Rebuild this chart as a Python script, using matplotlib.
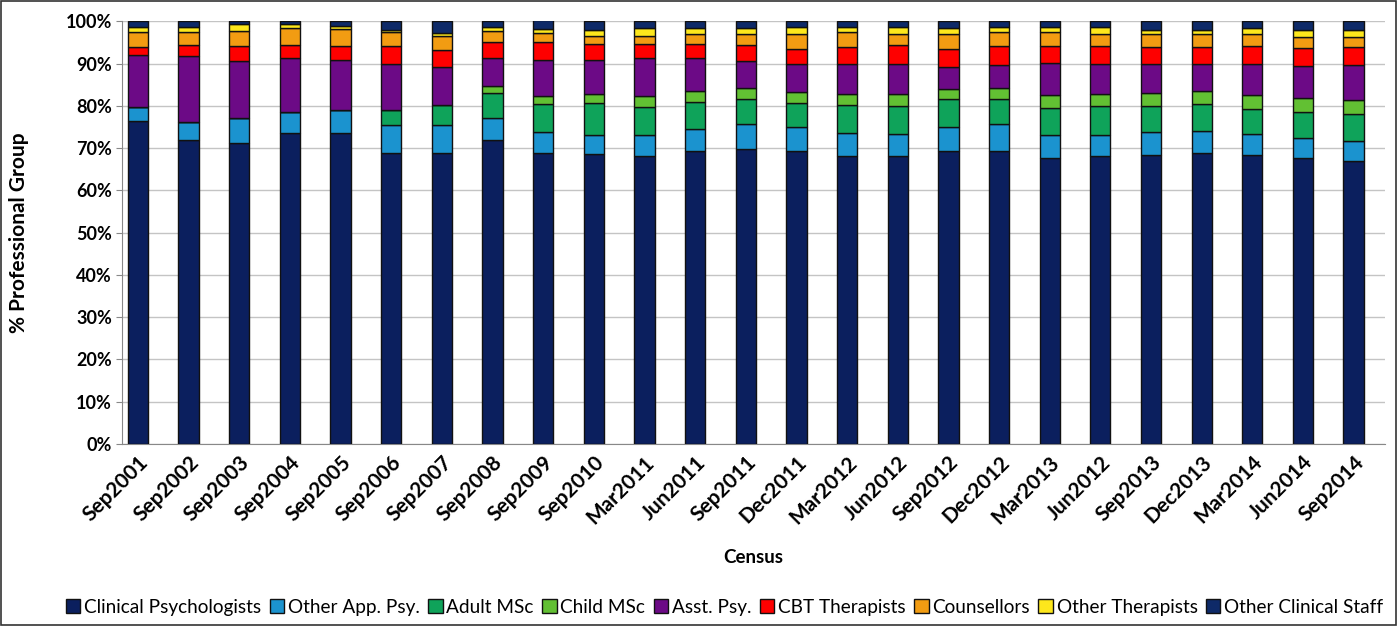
import matplotlib.pyplot as plt
from matplotlib.patches import Rectangle
import numpy as np

plt.rcParams['font.family'] = ['Lato', 'DejaVu Sans']

census = ["Sep2001", "Sep2002", "Sep2003", "Sep2004", "Sep2005", "Sep2006",
          "Sep2007", "Sep2008", "Sep2009", "Sep2010", "Mar2011", "Jun2011",
          "Sep2011", "Dec2011", "Mar2012", "Jun2012", "Sep2012", "Dec2012",
          "Mar2013", "Jun2012", "Sep2013", "Dec2013", "Mar2014", "Jun2014",
          "Sep2014"]

# % of workforce in each professional group per census
clinical_psych = [76.4, 71.9, 71.3, 73.5, 73.6, 68.9, 68.9, 71.8, 68.9, 68.7, 68.1, 69.3, 69.7,
                  69.4, 68.1, 68.1, 69.3, 69.4, 67.7, 68.1, 68.3, 68.9, 68.3, 67.7, 66.9]
other_app_psy = [3.4, 4.3, 5.9, 5.1, 5.5, 6.5, 6.5, 5.4, 5.0, 4.5, 5.1, 5.3, 5.9,
                 5.6, 5.5, 5.3, 5.7, 6.3, 5.5, 5.1, 5.6, 5.1, 5.1, 4.7, 4.8]
adult_msc = [0, 0, 0, 0, 0, 3.7, 4.8, 5.9, 6.6, 7.5, 6.6, 6.3, 5.9,
             5.7, 6.6, 6.5, 6.5, 5.8, 6.3, 6.7, 6.0, 6.5, 5.9, 6.2, 6.4]
child_msc = [0, 0, 0, 0, 0, 0, 0, 1.5, 1.8, 2.2, 2.6, 2.7, 2.6,
             2.6, 2.7, 2.9, 2.4, 2.6, 3.0, 2.9, 3.2, 3.1, 3.2, 3.3, 3.2]
asst_psy = [12.3, 15.7, 13.4, 12.7, 11.8, 10.8, 8.9, 6.6, 8.6, 7.9, 8.8, 7.6, 6.5,
            6.5, 7.0, 7.2, 5.2, 5.5, 7.7, 7.2, 6.7, 6.3, 7.4, 7.5, 8.3]
cbt = [1.8, 2.4, 3.5, 3.2, 3.2, 4.2, 4.2, 3.8, 4.2, 3.9, 3.5, 3.5, 3.9,
       3.7, 4.0, 4.3, 4.4, 4.5, 3.9, 4.1, 4.1, 4.0, 4.2, 4.3, 4.3]
counsellors = [3.6, 3.2, 3.7, 3.8, 4.0, 3.4, 3.2, 2.6, 2.2, 1.9, 1.9, 2.2, 2.4,
               3.6, 3.5, 2.8, 3.6, 3.3, 3.3, 3.0, 3.0, 3.0, 2.8, 2.5, 2.3]
other_ther = [1.1, 1.1, 1.6, 1.1, 0.7, 0.5, 0.7, 1.0, 0.9, 1.4, 1.7, 1.4, 1.4,
              1.5, 1.3, 1.5, 1.2, 1.2, 1.2, 1.5, 1.1, 1.1, 1.4, 1.8, 1.8]
other_staff = [1.4, 1.4, 0.6, 0.6, 1.2, 2.0, 2.8, 1.4, 2.2, 2.0, 1.7, 1.7, 1.7,
               1.4, 1.3, 1.4, 1.7, 1.4, 1.4, 1.4, 2.0, 2.0, 1.7, 2.0, 2.0]

groups = ["Clinical Psychologists", "Other App. Psy.", "Adult MSc", "Child MSc",
          "Asst. Psy.", "CBT Therapists", "Counsellors", "Other Therapists",
          "Other Clinical Staff"]
series = [clinical_psych, other_app_psy, adult_msc, child_msc, asst_psy, cbt,
          counsellors, other_ther, other_staff]
colors = ["#0b1f5e", "#1b93cf", "#0fa35a", "#62c033", "#6c0a86", "#fe0000",
          "#f29c12", "#fde71c", "#0e2a68"]

fig = plt.figure(figsize=(13.99, 6.26), dpi=100)
ax = fig.add_axes([0.087, 0.291, 0.903, 0.675])

x = np.arange(len(census))
bottom = np.zeros(len(census))
for name, vals, c in zip(groups, series, colors):
    v = np.array(vals) / 100.0
    ax.bar(x, v, width=0.40, bottom=bottom, color=c, edgecolor="#111111",
           linewidth=1.0, label=name, zorder=3)
    bottom += v

ax.set_ylim(0, 1)
ax.set_xlim(-0.32, len(census) - 1 + 0.62)
ticks = np.arange(0, 1.01, 0.1)
ax.set_yticks(ticks)
ax.set_yticklabels([f"{int(round(t * 100))}%" for t in ticks],
                   fontsize=13, fontweight="bold")
ax.set_xticks(x)
ax.set_xticklabels(census, rotation=45, ha="right", rotation_mode="anchor",
                   fontsize=15, fontweight="bold")
ax.tick_params(axis="x", length=0, pad=6)
ax.tick_params(axis="y", length=4, color="#888888", pad=3)
ax.grid(axis="y", color="#c4c4c4", linewidth=1, zorder=0)
for s in ["top", "right"]:
    ax.spines[s].set_visible(False)
ax.spines["left"].set_color("#888888")
ax.spines["bottom"].set_color("#888888")

ax.set_ylabel("% Professional Group", fontsize=15, fontweight="bold")
ax.yaxis.set_label_coords(-0.073, 0.5)
ax.set_xlabel("Census", fontsize=13.5, fontweight="bold")
ax.xaxis.set_label_coords(0.5, -0.25)

fig.legend(loc="center", bbox_to_anchor=(0.518, 0.03), ncol=9, frameon=False,
           fontsize=13.7, handlelength=0.75, handleheight=0.75, handletextpad=0.2,
           columnspacing=0.45, borderaxespad=0)

fig.patches.append(Rectangle((0.001, 0.001), 0.997, 0.997, transform=fig.transFigure,
                             fill=False, edgecolor="#333333", linewidth=1.2))

fig.savefig("out.png", dpi=100)
